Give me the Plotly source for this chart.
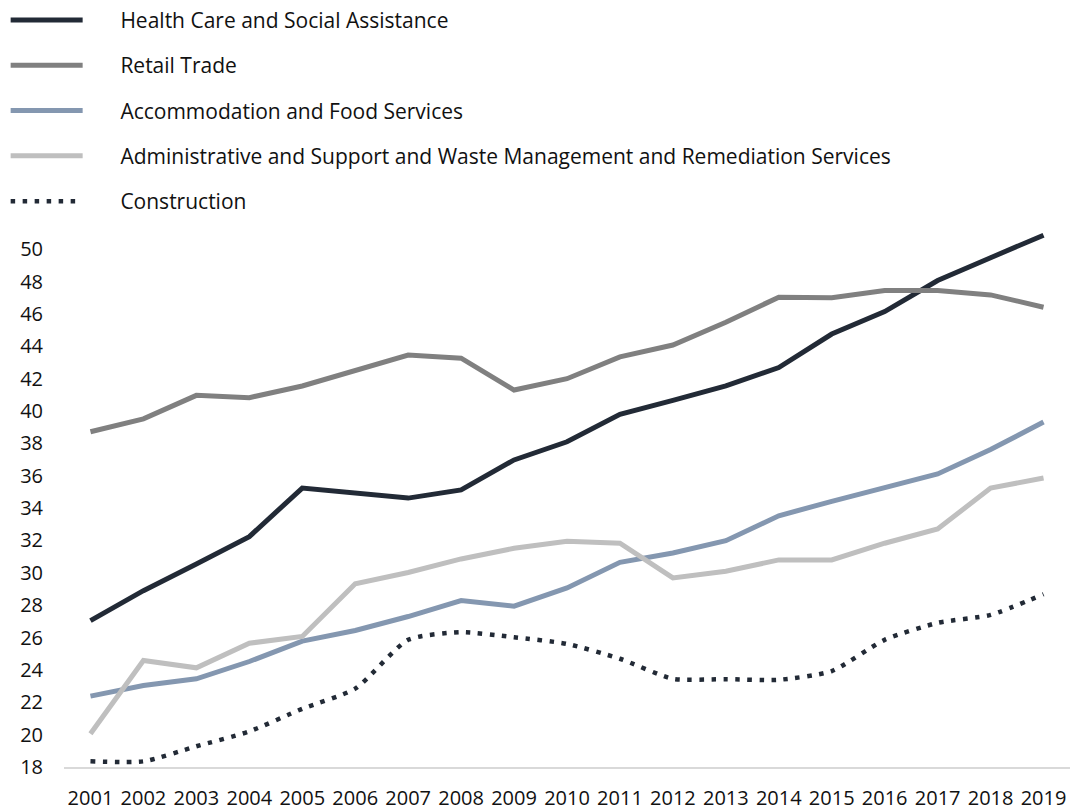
import plotly.graph_objects as go

years = [str(y) for y in range(2001, 2020)]

health_care = [27.05, 28.9, 30.55, 32.24, 35.24, 34.93, 34.62, 35.13, 36.98, 38.1,
               39.8, 40.66, 41.55, 42.69, 44.76, 46.15, 48.07, 49.48, 50.87]
retail_trade = [38.72, 39.52, 40.97, 40.83, 41.55, 42.48, 43.46, 43.27, 41.3, 42.0,
                43.35, 44.08, 45.49, 47.04, 47.0, 47.45, 47.45, 47.18, 46.42]
accommodation = [22.38, 23.04, 23.45, 24.52, 25.78, 26.44, 27.3, 28.29, 27.94, 29.07,
                 30.65, 31.23, 31.99, 33.53, 34.42, 35.28, 36.11, 37.62, 39.32]
admin_support = [20.06, 24.58, 24.13, 25.65, 26.07, 29.32, 30.02, 30.86, 31.52, 31.95,
                 31.83, 29.69, 30.1, 30.8, 30.8, 31.83, 32.71, 35.24, 35.86]
construction = [18.35, 18.35, 19.28, 20.2, 21.6, 22.84, 25.86, 26.33, 26.02, 25.61,
                24.69, 23.45, 23.43, 23.39, 23.93, 25.86, 26.91, 27.4, 28.68]

y_ticks = list(range(18, 52, 2))

series = [
    ("Health Care and Social Assistance", health_care, "#222a36", "solid", "linear", 5),
    ("Retail Trade", retail_trade, "#808080", "solid", "linear", 5),
    ("Accommodation and Food Services", accommodation, "#8497b0", "solid", "linear", 5),
    ("Administrative and Support and Waste Management and Remediation Services",
     admin_support, "#bfbfbf", "solid", "linear", 5),
    ("Construction", construction, "#222a36", "4.5px,7.5px", "spline", 4.5),
]

pad = "\u00a0" * 6

fig = go.Figure()
for i, (name, vals, color, dash, shape, lw) in enumerate(series):
    fig.add_trace(go.Scatter(
        x=years, y=vals, name=pad + name, mode="lines",
        line=dict(color=color, width=lw, dash=dash, shape=shape, smoothing=0.6),
        legendgroup=f"g{i}", hoverinfo="skip",
    ))

font_family = "'Open Sans', Lato, sans-serif"

fig.update_layout(
    width=1071, height=810,
    margin=dict(l=64, r=1, t=225, b=43, autoexpand=False),
    paper_bgcolor="white", plot_bgcolor="white",
    font=dict(family=font_family, size=20, color="#111111"),
    showlegend=True,
    legend=dict(
        x=-0.058, y=1.4155, xanchor="left", yanchor="top",
        orientation="v", itemwidth=72, tracegroupgap=15,
        font=dict(family=font_family, size=21, color="#111111"),
        bgcolor="rgba(0,0,0,0)",
    ),
    xaxis=dict(
        type="category", range=[-0.5, 18.5], showgrid=False, zeroline=False,
        showline=True, linecolor="#d9d9d9", linewidth=2,
        ticks="", ticklabelstandoff=12, tickangle=0,
        tickfont=dict(family=font_family, size=20, color="#111111"),
    ),
    yaxis=dict(
        range=[18, 51.5], tickvals=y_ticks, showgrid=False, zeroline=False,
        showline=False, ticks="", ticklabelstandoff=20,
        tickfont=dict(family=font_family, size=20, color="#111111"),
    ),
)

fig.write_html(
    "out.html",
    config={"displayModeBar": False},
    post_script="document.body.style.margin='0';document.body.style.overflow='hidden';",
)
